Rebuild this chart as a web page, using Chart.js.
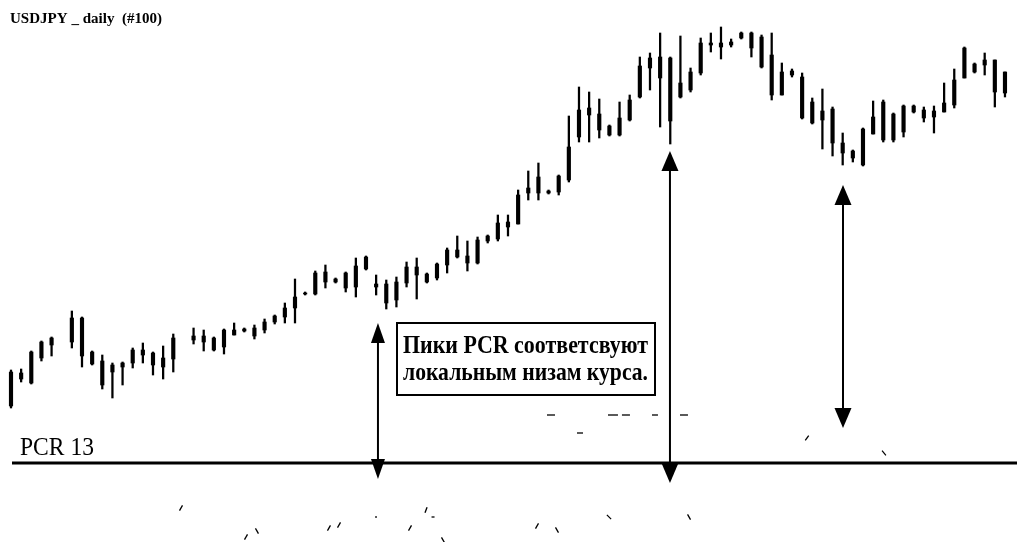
<!DOCTYPE html>
<html>
<head>
<meta charset="utf-8">
<title>USDJPY daily / PCR</title>
<script src="https://cdn.jsdelivr.net/npm/chart.js@4.4.1/dist/chart.umd.min.js"></script>
<style>
  html, body { margin: 0; padding: 0; background: #fff; }
  #wrap { width: 1021px; height: 542px; position: relative; }
</style>
</head>
<body>
<div id="wrap"><canvas id="priceCanvas"></canvas></div>
<script>
// daily candles, 99 sessions (null = bar lost in the print)
var high = [106.90, 106.95, 107.85, 108.35, 108.55, null, 109.85, 109.55, 107.85, 107.65,
  107.25, 107.30, 108.00, 108.25, 107.80, 108.10, 108.70, null, 109.00, 108.90,
  108.55, 108.95, 109.25, 109.00, 109.15, 109.45, 109.65, 110.25, 111.45, 110.80,
  111.85, 112.15, 111.50, 111.80, 112.50, 112.60, 111.65, 111.40, 111.55, 112.30,
  112.50, 111.75, 112.25, 113.00, 113.60, 113.35, 113.55, 113.65, 114.65, 114.65,
  115.90, 116.85, 117.25, 115.90, 116.65, 119.60, 121.05, 120.80, 120.45, 119.15,
  120.30, 120.65, 122.55, 122.75, 123.75, 122.55, 123.60, 122.00, 123.50, 123.75,
  124.05, 123.45, 123.80, 123.80, 123.65, 123.75, 122.25, 121.95, 121.75, 120.50,
  120.95, 120.05, 118.75, 117.90, 119.00, 120.35, 120.40, 119.75, 120.15, 120.15,
  120.05, 120.10, 121.25, 121.95, 123.05, 122.25, 122.75, 122.40, 121.80];
var low = [105.00, 106.30, 106.20, 107.35, 107.60, null, 108.00, 107.05, 107.15, 105.95,
  105.50, 106.15, 107.00, 107.25, 106.65, 106.45, 106.80, null, 108.20, 107.85,
  107.85, 107.70, 108.65, 108.80, 108.45, 108.75, 109.20, 109.25, 109.25, 110.65,
  110.65, 111.00, 111.25, 110.80, 110.55, 111.90, 110.65, 109.95, 110.05, 111.05,
  110.45, 111.25, 111.40, 111.75, 112.50, 111.85, 112.20, 113.25, 113.35, 113.60,
  114.20, 115.40, 115.40, 115.70, 115.65, 116.30, 118.30, 118.30, 118.50, 118.60,
  118.60, 119.35, 120.50, 120.90, 119.05, 118.20, 120.50, 120.80, 121.65, 122.80,
  122.45, 123.05, 123.45, 122.55, 122.00, 120.40, 120.65, 121.55, 119.45, 119.20,
  117.95, 117.60, 117.15, 117.30, 117.10, 118.70, 118.30, 118.30, 118.55, 119.75,
  119.30, 118.75, 119.80, 120.00, 121.50, 121.75, 121.65, 120.05, 120.55];
var open = [105.10, 106.45, 106.25, 107.50, 108.15, null, 108.30, 109.50, 107.80, 107.35,
  106.80, 107.05, 107.25, 107.65, 107.75, 107.50, 107.45, null, 108.40, 108.60,
  108.50, 108.05, 108.65, 108.85, 109.00, 108.90, 109.30, 109.55, 110.00, 110.70,
  110.70, 111.80, 111.45, 111.00, 111.05, 111.95, 111.20, 111.20, 110.40, 111.25,
  111.65, 111.70, 111.50, 112.15, 112.55, 112.60, 112.25, 113.35, 113.45, 114.05,
  114.20, 115.75, 115.75, 115.85, 115.80, 116.40, 118.55, 119.65, 119.70, 119.10,
  118.65, 119.40, 120.55, 122.00, 122.55, 122.50, 120.55, 120.90, 121.75, 123.15,
  123.25, 123.15, 123.50, 123.75, 123.55, 122.65, 120.65, 121.65, 121.55, 120.30,
  119.85, 119.95, 118.25, 117.85, 117.15, 118.70, 118.40, 119.70, 118.80, 119.80,
  119.90, 119.85, 119.80, 120.15, 121.50, 122.20, 122.15, 122.40, 120.75];
var close = [106.80, 106.75, 107.80, 108.30, 108.50, null, 109.50, 107.60, 107.20, 106.15,
  107.15, 107.25, 107.90, 107.90, 107.15, 107.05, 108.50, null, 108.60, 108.30,
  107.90, 108.90, 108.90, 108.95, 108.60, 109.30, 109.60, 110.00, 110.55, 110.75,
  111.75, 111.30, 111.30, 111.75, 112.10, 112.55, 111.05, 110.25, 111.30, 112.05,
  112.05, 111.30, 112.20, 112.90, 112.90, 112.25, 113.40, 113.60, 114.25, 114.30,
  115.65, 116.00, 116.55, 115.75, 116.60, 118.05, 119.90, 120.00, 118.90, 118.65,
  119.50, 120.40, 122.10, 122.50, 121.50, 119.35, 121.25, 121.80, 123.25, 123.25,
  123.05, 123.30, 123.75, 123.00, 122.05, 120.65, 121.80, 121.85, 119.50, 119.25,
  119.40, 118.25, 117.75, 117.50, 118.95, 119.55, 120.30, 118.40, 120.10, 120.10,
  119.50, 119.55, 120.25, 121.40, 123.00, 121.80, 122.40, 120.80, 121.80];

// PCR panel: only the level line and some fragments of the curve survived
var pcrLevel = 102.25;
var pcrBitX = [53.24, 59.35, 60.63, 63.49, 66.35, 56.10, 16.76, 23.17, 24.25, 31.35, 32.34, 35.99,
  39.34, 40.92, 41.61, 42.59, 51.86, 53.83, 58.96, 66.85, 78.48, 86.07];
var pcrBitY = [104.65, 104.65, 104.65, 104.65, 104.65, 103.75, 100.00, 98.55, 98.85, 99.00, 99.15, 99.55,
  99.00, 99.90, 99.55, 98.40, 99.10, 98.90, 99.55, 99.55, 103.50, 102.75];
var pcrBitLen = [4, 5, 4, 3, 4, 3, 3, 3, 3, 3, 3, 1, 3, 3, 1.5, 3, 3, 3, 3, 3, 3, 3];
var pcrBitTilt = [0, 0, 0, 0, 0, 0, -60, -60, 60, -60, -60, 0, -60, -70, 0, 60, -60, 60, 45, 60, -55, 50];

// arrows: candle index, top and bottom price
var arrowAt = [36.18, 64.97, 82.03];
var arrowTop = [109.25, 117.85, 116.15];
var arrowBottom = [101.45, 101.25, 104.0];

var titleText = 'USDJPY _ daily  (#100)';
var pcrLabel = 'PCR 13';
var noteLines = ['Пики PCR соответсвуют', 'локальным низам курса.'];

var wicks = [], bodies = [];
for (var i = 0; i < high.length; i++) {
  if (high[i] === null) continue;
  wicks.push({ x: i, y: [low[i], high[i]] });
  bodies.push({ x: i, y: [open[i], close[i]] });
}
var pcrBits = pcrBitX.map(function(x, i) { return { x: x, y: pcrBitY[i] }; });

function fitText(ctx, text, x, y, width, font, sy) {
  ctx.font = font;
  var w = ctx.measureText(text).width;
  ctx.save();
  ctx.translate(x, y);
  ctx.scale(width / w, sy);
  ctx.fillText(text, 0, 0);
  ctx.restore();
}

function drawArrow(ctx, x, yTop, yBot, headW, headL) {
  ctx.lineWidth = 2;
  ctx.beginPath();
  ctx.moveTo(x, yTop + headL - 2);
  ctx.lineTo(x, yBot - headL + 2);
  ctx.stroke();
  ctx.beginPath();
  ctx.moveTo(x, yTop);
  ctx.lineTo(x - headW / 2, yTop + headL);
  ctx.lineTo(x + headW / 2, yTop + headL);
  ctx.closePath();
  ctx.fill();
  ctx.beginPath();
  ctx.moveTo(x, yBot);
  ctx.lineTo(x - headW / 2, yBot - headL);
  ctx.lineTo(x + headW / 2, yBot - headL);
  ctx.closePath();
  ctx.fill();
}

var overlay = {
  id: 'overlay',
  afterDatasetsDraw: function(chart) {
    var ctx = chart.ctx, xs = chart.scales.x, ys = chart.scales.y, area = chart.chartArea;
    ctx.save();
    ctx.fillStyle = '#000';
    ctx.strokeStyle = '#000';
    ctx.textBaseline = 'alphabetic';

    fitText(ctx, titleText, 10, 23, 152, 'bold 13px "Liberation Serif"', 1.05);

    // PCR level line
    var yPcr = ys.getPixelForValue(pcrLevel);
    ctx.lineWidth = 3;
    ctx.beginPath();
    ctx.moveTo(area.left + 12, yPcr);
    ctx.lineTo(area.right - 4, yPcr);
    ctx.stroke();
    fitText(ctx, pcrLabel, 20, yPcr - 8, 74, '24px "Liberation Serif"', 1.05);

    for (var k = 0; k < arrowAt.length; k++) {
      drawArrow(ctx, xs.getPixelForValue(arrowAt[k]), ys.getPixelForValue(arrowTop[k]),
        ys.getPixelForValue(arrowBottom[k]), k === 0 ? 14 : 17, 20);
    }

    // note box
    var bx = 397, by = 323, bw = 258, bh = 72;
    ctx.fillStyle = '#fff';
    ctx.fillRect(bx, by, bw, bh);
    ctx.lineWidth = 2;
    ctx.strokeRect(bx, by, bw, bh);
    ctx.fillStyle = '#000';
    fitText(ctx, noteLines[0], bx + 6, by + 30, 245, 'bold 21px "Liberation Serif"', 1.2);
    fitText(ctx, noteLines[1], bx + 6, by + 57, 245, 'bold 21px "Liberation Serif"', 1.2);
    ctx.restore();
  }
};

new Chart(document.getElementById('priceCanvas'), {
  type: 'bar',
  data: {
    datasets: [{
      label: 'range',
      data: wicks,
      backgroundColor: '#000',
      barThickness: 1.6,
      grouped: false,
      order: 2
    }, {
      label: 'body',
      data: bodies,
      backgroundColor: '#000',
      barThickness: 3.5,
      grouped: false,
      order: 1
    }, {
      type: 'scatter',
      label: 'PCR',
      data: pcrBits,
      pointStyle: 'line',
      pointRadius: pcrBitLen,
      pointRotation: pcrBitTilt,
      pointBorderColor: '#000',
      pointBorderWidth: 1.3,
      order: 0
    }]
  },
  options: {
    responsive: true,
    maintainAspectRatio: false,
    animation: false,
    layout: { padding: 0, autoPadding: false },
    scales: {
      x: { type: 'linear', min: -1.0845, max: 99.58, offset: false, display: false },
      y: { min: 98.3, max: 125.4, display: false }
    },
    plugins: {
      legend: { display: false },
      tooltip: { enabled: false },
      title: { display: false }
    }
  },
  plugins: [overlay]
});
</script>
</body>
</html>
